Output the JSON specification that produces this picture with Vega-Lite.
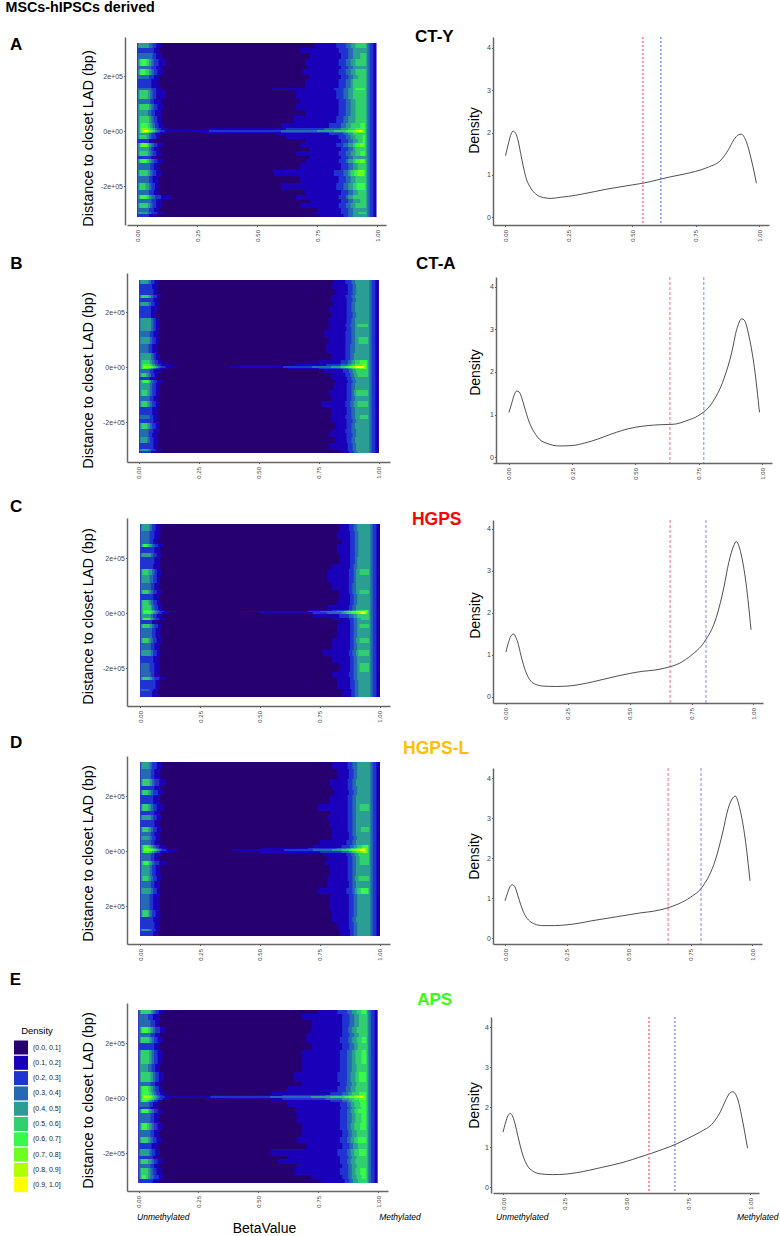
{"$schema":"https://vega.github.io/schema/vega-lite/v6.json","padding":{"left":5,"top":1,"right":0,"bottom":0},"background":"white","bounds":"flush","spacing":366,
"config":{"font":"Liberation Sans","view":{"stroke":null},"axis":{"grid":false,"domainColor":"#666666","domainWidth":1.5,"tickColor":"#555555","tickSize":1.5,"labelColor":"#444444","titleColor":"#000000","titleFontWeight":"normal"},"axisX":{"labelAngle":-90,"labelFontSize":6,"labelPadding":3,"title":null},"axisY":{"labelFontSize":7,"labelPadding":1,"titleFontSize":14.5,"titleBaseline":"middle"}},
"datasets":{
"bands":[{"band":"L1","end":0,"range":"(0.1, 0.2]"},{"band":"L2","end":0,"range":"(0.2, 0.3]"},{"band":"L3","end":0.003,"range":"(0.3, 0.4]"},{"band":"L4","end":0.006,"range":"(0.4, 0.5]"},{"band":"L5","end":0.01,"range":"(0.5, 0.6]"},{"band":"L6","end":0.015,"range":"(0.6, 0.7]"},{"band":"L7","end":0.018,"range":"(0.7, 0.8]"},{"band":"L8","end":0.02,"range":"(0.8, 0.9]"},{"band":"L9","end":0.025,"range":"(0.9, 1.0]"},{"band":"R1","end":0.998,"range":"(0.1, 0.2]"},{"band":"R2","end":0.985,"range":"(0.2, 0.3]"},{"band":"R3","end":0.97,"range":"(0.3, 0.4]"},{"band":"R4","end":0.96,"range":"(0.4, 0.5]"},{"band":"R5","end":0.955,"range":"(0.5, 0.6]"},{"band":"R6","end":0.95,"range":"(0.6, 0.7]"},{"band":"R7","end":0.945,"range":"(0.7, 0.8]"},{"band":"R8","end":0.94,"range":"(0.8, 0.9]"},{"band":"R9","end":0.935,"range":"(0.9, 1.0]"}],
"A":[{"y":320000,"v":302000,"L1":0.1,"L2":0.08,"L3":0.065,"L4":0.05,"R1":0.74,"R2":0.83,"R3":0.87,"R4":0.89,"R5":0.91},
{"y":302000,"v":285000,"L1":0.09,"L2":0.07,"R1":0.68,"R2":0.84,"R3":0.88,"R4":0.9},
{"y":285000,"v":262000,"L1":0.1,"L2":0.08,"L3":0.065,"R1":0.72,"R2":0.85,"R3":0.88,"R4":0.9,"R5":0.93},
{"y":262000,"v":238000,"L1":0.12,"L2":0.09,"L3":0.07,"L4":0.06,"L5":0.05,"L6":0.04,"R1":0.7,"R2":0.84,"R3":0.87,"R4":0.89,"R5":0.91},
{"y":238000,"v":225000,"L1":0.1,"L2":0.08,"L3":0.06,"R1":0.71,"R2":0.85,"R3":0.88,"R4":0.9},
{"y":225000,"v":205000,"L1":0.11,"L2":0.085,"L3":0.07,"L4":0.06,"L5":0.05,"L6":0.035,"R1":0.69,"R2":0.84,"R3":0.87,"R4":0.89,"R5":0.91},
{"y":205000,"v":190000,"L1":0.09,"L2":0.07,"L3":0.05,"R1":0.72,"R2":0.85,"R3":0.88,"R4":0.9,"R5":0.92},
{"y":190000,"v":158000,"L1":0.09,"L2":0.06,"R1":0.7,"R2":0.84,"R3":0.87,"R4":0.89,"R5":0.9},
{"y":158000,"v":150000,"L1":0.1,"L2":0.08,"L3":0.06,"R1":0.56,"R2":0.82,"R3":0.86,"R4":0.88,"R5":0.9,"R6":0.91},
{"y":150000,"v":115000,"L1":0.12,"L2":0.08,"L3":0.065,"L4":0.055,"L5":0.045,"R1":0.66,"R2":0.83,"R3":0.86,"R4":0.88,"R5":0.9},
{"y":115000,"v":98000,"L1":0.1,"L2":0.07,"L3":0.055,"R1":0.68,"R2":0.84,"R3":0.87,"R4":0.89,"R5":0.91},
{"y":98000,"v":78000,"L1":0.11,"L2":0.085,"L3":0.07,"L4":0.06,"L5":0.05,"R1":0.66,"R2":0.84,"R3":0.87,"R4":0.89,"R5":0.91},
{"y":78000,"v":55000,"L1":0.1,"L2":0.075,"L3":0.06,"L4":0.045,"R1":0.7,"R2":0.84,"R3":0.87,"R4":0.89,"R5":0.91},
{"y":55000,"v":30000,"L1":0.1,"L2":0.085,"L3":0.07,"L4":0.06,"L5":0.05,"R1":0.65,"R2":0.83,"R3":0.86,"R4":0.88,"R5":0.91},
{"y":30000,"v":12000,"L1":0.11,"L2":0.09,"L3":0.075,"L4":0.065,"L5":0.055,"L6":0.045,"R1":0.6,"R2":0.8,"R3":0.85,"R4":0.87,"R5":0.89,"R6":0.93},
{"y":12000,"v":5000,"L1":0.13,"L2":0.1,"L3":0.085,"L4":0.075,"L5":0.065,"L6":0.055,"L7":0.045,"R1":0.3,"R2":0.62,"R3":0.78,"R4":0.85,"R5":0.88,"R6":0.91},
{"y":5000,"v":-2000,"L1":0.14,"L2":0.115,"L3":0.095,"L4":0.085,"L5":0.075,"L6":0.065,"L7":0.055,"L8":0.05,"L9":0.045,"R1":0.12,"R2":0.3,"R3":0.6,"R4":0.75,"R5":0.82,"R6":0.87,"R7":0.89,"R8":0.91,"R9":0.925},
{"y":-2000,"v":-8000,"L1":0.125,"L2":0.095,"L3":0.08,"L4":0.07,"L5":0.06,"L6":0.05,"L7":0.04,"R1":0.25,"R2":0.6,"R3":0.8,"R4":0.86,"R5":0.88,"R6":0.9,"R7":0.92},
{"y":-8000,"v":-14000,"L1":0.1,"L2":0.075,"L3":0.06,"L4":0.05,"R1":0.58,"R2":0.8,"R3":0.86,"R4":0.88,"R5":0.9},
{"y":-14000,"v":-30000,"L1":0.095,"L2":0.08,"L3":0.06,"L4":0.05,"L5":0.04,"R1":0.62,"R2":0.84,"R3":0.87,"R4":0.89,"R5":0.91,"R6":0.94},
{"y":-30000,"v":-44000,"L1":0.07,"L2":0.05,"R1":0.7,"R2":0.85,"R3":0.88,"R4":0.9,"R5":0.92,"R6":0.94},
{"y":-44000,"v":-58000,"L1":0.11,"L2":0.085,"L3":0.07,"L4":0.06,"L5":0.05,"L6":0.045,"L7":0.04,"R1":0.68,"R2":0.83,"R3":0.86,"R4":0.88,"R5":0.9,"R6":0.91,"R7":0.93},
{"y":-58000,"v":-72000,"L1":0.09,"L2":0.07,"L3":0.06,"L4":0.05,"R1":0.72,"R2":0.85,"R3":0.88,"R4":0.9,"R5":0.91},
{"y":-72000,"v":-92000,"L1":0.1,"L2":0.08,"L3":0.065,"L4":0.055,"L5":0.045,"R1":0.66,"R2":0.84,"R3":0.87,"R4":0.89,"R5":0.91,"R6":0.93},
{"y":-92000,"v":-100000,"L1":0.08,"L2":0.06,"R1":0.72,"R2":0.85,"R3":0.88,"R4":0.9},
{"y":-100000,"v":-115000,"L1":0.11,"L2":0.085,"L3":0.07,"L4":0.06,"L5":0.05,"L6":0.04,"R1":0.7,"R2":0.84,"R3":0.87,"R4":0.88,"R5":0.9,"R6":0.91,"R7":0.93},
{"y":-115000,"v":-140000,"L1":0.09,"L2":0.07,"L3":0.055,"R1":0.68,"R2":0.85,"R3":0.88,"R4":0.9,"R5":0.92},
{"y":-140000,"v":-165000,"L1":0.1,"L2":0.08,"L3":0.065,"L4":0.055,"L5":0.045,"R1":0.57,"R2":0.82,"R3":0.86,"R4":0.88,"R5":0.89,"R6":0.905,"R7":0.92},
{"y":-165000,"v":-190000,"L1":0.09,"L2":0.065,"L3":0.05,"R1":0.68,"R2":0.84,"R3":0.87,"R4":0.89,"R5":0.91},
{"y":-190000,"v":-215000,"L1":0.09,"L2":0.075,"L3":0.06,"L4":0.05,"L5":0.035,"R1":0.6,"R2":0.83,"R3":0.86,"R4":0.88,"R5":0.9,"R6":0.915},
{"y":-215000,"v":-232000,"L1":0.09,"L2":0.07,"L3":0.05,"R1":0.7,"R2":0.85,"R3":0.88,"R4":0.9,"R5":0.92},
{"y":-232000,"v":-246000,"L1":0.14,"L2":0.1,"L3":0.075,"L4":0.06,"L5":0.05,"L6":0.04,"R1":0.66,"R2":0.84,"R3":0.87,"R4":0.88,"R5":0.9},
{"y":-246000,"v":-262000,"L1":0.1,"L2":0.08,"L3":0.06,"R1":0.72,"R2":0.85,"R3":0.88,"R4":0.9,"R5":0.93},
{"y":-262000,"v":-280000,"L1":0.1,"L2":0.08,"L3":0.065,"L4":0.055,"L5":0.045,"R1":0.68,"R2":0.84,"R3":0.87,"R4":0.89,"R5":0.91},
{"y":-280000,"v":-295000,"L1":0.09,"L2":0.07,"L3":0.05,"R1":0.75,"R2":0.85,"R3":0.88,"R4":0.9},
{"y":-295000,"v":-303000,"L1":0.11,"L2":0.085,"L3":0.06,"L4":0.045,"R1":0.73,"R2":0.85,"R3":0.88,"R4":0.9,"R5":0.92},
{"y":-303000,"v":-311000,"L1":0.08,"L2":0.05,"R1":0.76,"R2":0.86,"R3":0.88,"R4":0.9}],
"B":[{"y":316000,"v":300000,"L1":0.08,"L2":0.065,"L3":0.05,"L4":0.04,"R1":0.81,"R2":0.86,"R3":0.885,"R4":0.9},
{"y":300000,"v":282000,"L1":0.075,"L2":0.055,"R1":0.8,"R2":0.87,"R3":0.89,"R4":0.905},
{"y":282000,"v":262000,"L1":0.08,"L2":0.06,"R1":0.82,"R2":0.87,"R3":0.89,"R4":0.905},
{"y":262000,"v":250000,"L1":0.09,"L2":0.075,"L3":0.06,"L4":0.05,"L5":0.04,"R1":0.8,"R2":0.86,"R3":0.885,"R4":0.9},
{"y":250000,"v":235000,"L1":0.08,"L2":0.06,"R1":0.8,"R2":0.865,"R3":0.89,"R4":0.905},
{"y":235000,"v":222000,"L1":0.085,"L2":0.065,"L3":0.05,"L4":0.04,"R1":0.81,"R2":0.865,"R3":0.885,"R4":0.9},
{"y":222000,"v":200000,"L1":0.075,"L2":0.05,"R1":0.79,"R2":0.865,"R3":0.885,"R4":0.9},
{"y":200000,"v":178000,"L1":0.07,"L2":0.05,"R1":0.8,"R2":0.865,"R3":0.89,"R4":0.905},
{"y":178000,"v":155000,"L1":0.085,"L2":0.07,"L3":0.06,"L4":0.05,"R1":0.79,"R2":0.865,"R3":0.885,"R4":0.9},
{"y":155000,"v":145000,"L1":0.085,"L2":0.07,"L3":0.06,"L4":0.05,"R1":0.79,"R2":0.86,"R3":0.88,"R4":0.9,"R5":0.91},
{"y":145000,"v":130000,"L1":0.085,"L2":0.07,"L3":0.06,"L4":0.05,"R1":0.79,"R2":0.865,"R3":0.885,"R4":0.9},
{"y":130000,"v":110000,"L1":0.08,"L2":0.06,"L3":0.045,"R1":0.77,"R2":0.86,"R3":0.885,"R4":0.9},
{"y":110000,"v":85000,"L1":0.085,"L2":0.07,"L3":0.055,"L4":0.045,"R1":0.79,"R2":0.86,"R3":0.885,"R4":0.9,"R5":0.915},
{"y":85000,"v":50000,"L1":0.075,"L2":0.055,"L3":0.04,"R1":0.78,"R2":0.86,"R3":0.88,"R4":0.9},
{"y":50000,"v":25000,"L1":0.085,"L2":0.07,"L3":0.06,"L4":0.05,"R1":0.8,"R2":0.86,"R3":0.88,"R4":0.895},
{"y":25000,"v":10000,"L1":0.095,"L2":0.08,"L3":0.065,"L4":0.055,"L5":0.045,"R1":0.75,"R2":0.84,"R3":0.87,"R4":0.885,"R5":0.9,"R6":0.92},
{"y":10000,"v":4000,"L1":0.125,"L2":0.09,"L3":0.075,"L4":0.065,"L5":0.055,"L6":0.045,"R1":0.65,"R2":0.78,"R3":0.84,"R4":0.87,"R5":0.885,"R6":0.9,"R7":0.93},
{"y":4000,"v":-3000,"L1":0.155,"L2":0.11,"L3":0.09,"L4":0.08,"L5":0.07,"L6":0.06,"L7":0.05,"R1":0.38,"R2":0.6,"R3":0.72,"R4":0.8,"R5":0.84,"R6":0.86,"R7":0.875,"R8":0.89,"R9":0.905},
{"y":-3000,"v":-9000,"L1":0.12,"L2":0.085,"L3":0.07,"L4":0.06,"L5":0.05,"L6":0.04,"R1":0.62,"R2":0.75,"R3":0.84,"R4":0.87,"R5":0.885,"R6":0.9,"R7":0.92},
{"y":-9000,"v":-22000,"L1":0.09,"L2":0.06,"L3":0.045,"R1":0.77,"R2":0.85,"R3":0.875,"R4":0.89,"R5":0.905},
{"y":-22000,"v":-36000,"L1":0.08,"L2":0.065,"L3":0.05,"L4":0.04,"L5":0.03,"R1":0.8,"R2":0.86,"R3":0.88,"R4":0.895,"R5":0.91},
{"y":-36000,"v":-48000,"L1":0.07,"L2":0.045,"R1":0.8,"R2":0.865,"R3":0.885,"R4":0.9},
{"y":-48000,"v":-58000,"L1":0.1,"L2":0.075,"L3":0.06,"L4":0.05,"L5":0.045,"L6":0.04,"R1":0.82,"R2":0.87,"R3":0.89,"R4":0.905},
{"y":-58000,"v":-85000,"L1":0.085,"L2":0.07,"L3":0.055,"L4":0.045,"R1":0.81,"R2":0.865,"R3":0.885,"R4":0.9},
{"y":-85000,"v":-105000,"L1":0.085,"L2":0.07,"L3":0.055,"L4":0.045,"L5":0.035,"R1":0.79,"R2":0.865,"R3":0.885,"R4":0.895,"R5":0.905},
{"y":-105000,"v":-125000,"L1":0.08,"L2":0.06,"L3":0.045,"R1":0.8,"R2":0.865,"R3":0.885,"R4":0.9},
{"y":-125000,"v":-145000,"L1":0.085,"L2":0.07,"L3":0.055,"L4":0.045,"L5":0.035,"R1":0.76,"R2":0.86,"R3":0.88,"R4":0.895,"R5":0.91},
{"y":-145000,"v":-175000,"L1":0.08,"L2":0.055,"R1":0.8,"R2":0.865,"R3":0.885,"R4":0.9},
{"y":-175000,"v":-190000,"L1":0.08,"L2":0.06,"L3":0.045,"R1":0.8,"R2":0.86,"R3":0.885,"R4":0.9,"R5":0.92},
{"y":-190000,"v":-205000,"L1":0.08,"L2":0.06,"R1":0.8,"R2":0.865,"R3":0.89,"R4":0.905},
{"y":-205000,"v":-225000,"L1":0.085,"L2":0.07,"L3":0.055,"L4":0.045,"L5":0.035,"R1":0.82,"R2":0.865,"R3":0.885,"R4":0.9},
{"y":-225000,"v":-240000,"L1":0.085,"L2":0.06,"L3":0.04,"R1":0.8,"R2":0.86,"R3":0.885,"R4":0.905},
{"y":-240000,"v":-255000,"L1":0.075,"L2":0.055,"L3":0.04,"R1":0.79,"R2":0.865,"R3":0.89,"R4":0.905},
{"y":-255000,"v":-278000,"L1":0.08,"L2":0.06,"L3":0.045,"L4":0.035,"R1":0.82,"R2":0.865,"R3":0.885,"R4":0.9},
{"y":-278000,"v":-298000,"L1":0.08,"L2":0.06,"R1":0.79,"R2":0.87,"R3":0.89,"R4":0.905},
{"y":-298000,"v":-304000,"L1":0.095,"L2":0.07,"L3":0.05,"L4":0.04,"R1":0.83,"R2":0.87,"R3":0.89,"R4":0.905},
{"y":-304000,"v":-313000,"L1":0.07,"L2":0.05,"R1":0.85,"R2":0.875,"R3":0.895,"R4":0.91}],
"C":[{"y":324000,"v":300000,"L1":0.085,"L2":0.065,"L3":0.05,"L4":0.04,"R1":0.83,"R2":0.87,"R3":0.89,"R4":0.905},
{"y":300000,"v":270000,"L1":0.085,"L2":0.06,"L3":0.04,"R1":0.82,"R2":0.875,"R3":0.895,"R4":0.91},
{"y":270000,"v":252000,"L1":0.075,"L2":0.055,"L3":0.04,"R1":0.84,"R2":0.875,"R3":0.895,"R4":0.91},
{"y":252000,"v":240000,"L1":0.1,"L2":0.075,"L3":0.06,"L4":0.05,"L5":0.04,"L6":0.03,"R1":0.82,"R2":0.875,"R3":0.895,"R4":0.91},
{"y":240000,"v":218000,"L1":0.085,"L2":0.06,"R1":0.82,"R2":0.875,"R3":0.895,"R4":0.91},
{"y":218000,"v":205000,"L1":0.09,"L2":0.07,"L3":0.055,"L4":0.045,"R1":0.83,"R2":0.875,"R3":0.895,"R4":0.91},
{"y":205000,"v":180000,"L1":0.085,"L2":0.06,"R1":0.83,"R2":0.875,"R3":0.895,"R4":0.905},
{"y":180000,"v":160000,"L1":0.08,"L2":0.055,"R1":0.8,"R2":0.875,"R3":0.89,"R4":0.905},
{"y":160000,"v":140000,"L1":0.09,"L2":0.07,"L3":0.06,"L4":0.05,"L5":0.035,"R1":0.78,"R2":0.87,"R3":0.89,"R4":0.9,"R5":0.915},
{"y":140000,"v":110000,"L1":0.085,"L2":0.07,"L3":0.055,"L4":0.04,"R1":0.78,"R2":0.87,"R3":0.89,"R4":0.9},
{"y":110000,"v":85000,"L1":0.08,"L2":0.06,"L3":0.045,"R1":0.8,"R2":0.87,"R3":0.885,"R4":0.9},
{"y":85000,"v":68000,"L1":0.09,"L2":0.07,"L3":0.055,"L4":0.045,"L5":0.035,"R1":0.83,"R2":0.87,"R3":0.885,"R4":0.9,"R5":0.915},
{"y":68000,"v":48000,"L1":0.08,"L2":0.055,"R1":0.83,"R2":0.875,"R3":0.89,"R4":0.905},
{"y":48000,"v":30000,"L1":0.085,"L2":0.07,"L3":0.055,"L4":0.045,"L5":0.035,"R1":0.82,"R2":0.875,"R3":0.89,"R4":0.905},
{"y":30000,"v":12000,"L1":0.09,"L2":0.075,"L3":0.06,"L4":0.05,"L5":0.045,"R1":0.78,"R2":0.87,"R3":0.885,"R4":0.9},
{"y":12000,"v":8000,"L1":0.11,"L2":0.085,"L3":0.07,"L4":0.06,"L5":0.05,"L6":0.04,"R1":0.7,"R2":0.8,"R3":0.86,"R4":0.885,"R5":0.9,"R6":0.92,"R7":0.94},
{"y":8000,"v":2000,"L1":0.15,"L2":0.1,"L3":0.08,"L4":0.07,"L5":0.06,"L6":0.05,"L7":0.04,"R1":0.42,"R2":0.7,"R3":0.75,"R4":0.82,"R5":0.85,"R6":0.87,"R7":0.885,"R8":0.9,"R9":0.915},
{"y":2000,"v":-4000,"L1":0.12,"L2":0.09,"L3":0.075,"L4":0.065,"L5":0.055,"L6":0.045,"R1":0.5,"R2":0.72,"R3":0.78,"R4":0.84,"R5":0.86,"R6":0.88,"R7":0.9,"R8":0.91,"R9":0.92},
{"y":-4000,"v":-18000,"L1":0.09,"L2":0.07,"L3":0.055,"L4":0.045,"R1":0.72,"R2":0.83,"R3":0.87,"R4":0.89,"R5":0.905},
{"y":-18000,"v":-26000,"L1":0.105,"L2":0.08,"L3":0.065,"L4":0.055,"L5":0.045,"L6":0.04,"R1":0.8,"R2":0.87,"R3":0.89,"R4":0.905,"R5":0.92},
{"y":-26000,"v":-40000,"L1":0.07,"L2":0.05,"R1":0.83,"R2":0.875,"R3":0.89,"R4":0.905},
{"y":-40000,"v":-56000,"L1":0.09,"L2":0.075,"L3":0.06,"L4":0.05,"L5":0.04,"R1":0.82,"R2":0.875,"R3":0.89,"R4":0.905,"R5":0.915},
{"y":-56000,"v":-92000,"L1":0.085,"L2":0.065,"L3":0.05,"R1":0.82,"R2":0.875,"R3":0.89,"R4":0.905},
{"y":-92000,"v":-110000,"L1":0.09,"L2":0.07,"L3":0.055,"L4":0.045,"L5":0.035,"R1":0.8,"R2":0.875,"R3":0.89,"R4":0.9,"R5":0.915},
{"y":-110000,"v":-135000,"L1":0.08,"L2":0.06,"L3":0.045,"R1":0.8,"R2":0.875,"R3":0.89,"R4":0.905},
{"y":-135000,"v":-155000,"L1":0.085,"L2":0.07,"L3":0.055,"L4":0.045,"R1":0.76,"R2":0.87,"R3":0.885,"R4":0.9,"R5":0.91},
{"y":-155000,"v":-180000,"L1":0.08,"L2":0.055,"R1":0.8,"R2":0.875,"R3":0.89,"R4":0.905},
{"y":-180000,"v":-215000,"L1":0.08,"L2":0.06,"L3":0.04,"R1":0.83,"R2":0.875,"R3":0.89,"R4":0.905,"R5":0.915},
{"y":-215000,"v":-232000,"L1":0.08,"L2":0.06,"L3":0.045,"R1":0.8,"R2":0.87,"R3":0.89,"R4":0.905},
{"y":-232000,"v":-242000,"L1":0.105,"L2":0.08,"L3":0.06,"L4":0.05,"L5":0.04,"R1":0.82,"R2":0.875,"R3":0.89,"R4":0.905},
{"y":-242000,"v":-275000,"L1":0.08,"L2":0.065,"R1":0.82,"R2":0.875,"R3":0.895,"R4":0.91},
{"y":-275000,"v":-285000,"L1":0.075,"L2":0.055,"L3":0.04,"R1":0.85,"R2":0.88,"R3":0.895,"R4":0.91},
{"y":-285000,"v":-305000,"L1":0.07,"L2":0.05,"R1":0.84,"R2":0.88,"R3":0.895,"R4":0.91}],
"D":[{"y":324000,"v":300000,"L1":0.09,"L2":0.07,"L3":0.05,"L4":0.04,"R1":0.8,"R2":0.865,"R3":0.885,"R4":0.905},
{"y":300000,"v":262000,"L1":0.085,"L2":0.06,"L3":0.045,"R1":0.82,"R2":0.87,"R3":0.89,"R4":0.905},
{"y":262000,"v":236000,"L1":0.105,"L2":0.08,"L3":0.06,"L4":0.05,"L5":0.04,"R1":0.79,"R2":0.865,"R3":0.885,"R4":0.9},
{"y":236000,"v":222000,"L1":0.085,"L2":0.06,"R1":0.8,"R2":0.865,"R3":0.885,"R4":0.905},
{"y":222000,"v":205000,"L1":0.095,"L2":0.075,"L3":0.055,"L4":0.045,"L5":0.035,"R1":0.81,"R2":0.87,"R3":0.89,"R4":0.905},
{"y":205000,"v":170000,"L1":0.08,"L2":0.055,"R1":0.79,"R2":0.865,"R3":0.885,"R4":0.9},
{"y":170000,"v":145000,"L1":0.1,"L2":0.07,"L3":0.055,"L4":0.045,"L5":0.035,"R1":0.74,"R2":0.865,"R3":0.885,"R4":0.9,"R5":0.915},
{"y":145000,"v":130000,"L1":0.08,"L2":0.06,"R1":0.79,"R2":0.865,"R3":0.885,"R4":0.9},
{"y":130000,"v":112000,"L1":0.09,"L2":0.07,"L3":0.055,"L4":0.045,"R1":0.78,"R2":0.865,"R3":0.885,"R4":0.9},
{"y":112000,"v":88000,"L1":0.08,"L2":0.06,"R1":0.79,"R2":0.865,"R3":0.885,"R4":0.9},
{"y":88000,"v":68000,"L1":0.09,"L2":0.07,"L3":0.055,"L4":0.045,"L5":0.035,"R1":0.8,"R2":0.865,"R3":0.885,"R4":0.9,"R5":0.92},
{"y":68000,"v":55000,"L1":0.08,"L2":0.06,"L3":0.045,"R1":0.8,"R2":0.87,"R3":0.885,"R4":0.9},
{"y":55000,"v":40000,"L1":0.085,"L2":0.065,"L3":0.05,"L4":0.04,"R1":0.8,"R2":0.87,"R3":0.89,"R4":0.905},
{"y":40000,"v":22000,"L1":0.08,"L2":0.06,"L3":0.045,"R1":0.75,"R2":0.86,"R3":0.885,"R4":0.9},
{"y":22000,"v":12000,"L1":0.105,"L2":0.08,"L3":0.065,"L4":0.055,"L5":0.045,"L6":0.035,"R1":0.72,"R2":0.84,"R3":0.875,"R4":0.89,"R5":0.905,"R6":0.925},
{"y":12000,"v":6000,"L1":0.12,"L2":0.09,"L3":0.075,"L4":0.065,"L5":0.055,"L6":0.045,"L7":0.035,"R1":0.5,"R2":0.7,"R3":0.82,"R4":0.86,"R5":0.88,"R6":0.9,"R7":0.91,"R8":0.925},
{"y":6000,"v":0,"L1":0.155,"L2":0.11,"L3":0.09,"L4":0.08,"L5":0.07,"L6":0.06,"L7":0.05,"R1":0.38,"R2":0.6,"R3":0.72,"R4":0.8,"R5":0.84,"R6":0.87,"R7":0.88,"R8":0.895,"R9":0.915},
{"y":0,"v":-6000,"L1":0.12,"L2":0.085,"L3":0.07,"L4":0.06,"L5":0.05,"L6":0.04,"R1":0.5,"R2":0.75,"R3":0.84,"R4":0.87,"R5":0.885,"R6":0.9,"R7":0.92,"R8":0.93},
{"y":-6000,"v":-18000,"L1":0.09,"L2":0.06,"L3":0.045,"R1":0.76,"R2":0.86,"R3":0.88,"R4":0.895,"R5":0.91},
{"y":-18000,"v":-36000,"L1":0.08,"L2":0.06,"L3":0.045,"R1":0.78,"R2":0.865,"R3":0.885,"R4":0.9,"R5":0.915},
{"y":-36000,"v":-50000,"L1":0.11,"L2":0.08,"L3":0.06,"L4":0.05,"L5":0.04,"L6":0.035,"R1":0.77,"R2":0.865,"R3":0.885,"R4":0.9,"R5":0.915},
{"y":-50000,"v":-90000,"L1":0.085,"L2":0.065,"L3":0.05,"L4":0.04,"R1":0.79,"R2":0.865,"R3":0.885,"R4":0.9},
{"y":-90000,"v":-108000,"L1":0.09,"L2":0.07,"L3":0.055,"L4":0.045,"L5":0.035,"R1":0.78,"R2":0.865,"R3":0.885,"R4":0.895,"R5":0.91},
{"y":-108000,"v":-135000,"L1":0.08,"L2":0.06,"L3":0.045,"R1":0.78,"R2":0.87,"R3":0.885,"R4":0.9},
{"y":-135000,"v":-155000,"L1":0.085,"L2":0.07,"L3":0.055,"L4":0.045,"R1":0.74,"R2":0.86,"R3":0.885,"R4":0.895,"R5":0.905,"R6":0.92},
{"y":-155000,"v":-215000,"L1":0.08,"L2":0.055,"L3":0.04,"R1":0.79,"R2":0.87,"R3":0.89,"R4":0.905},
{"y":-215000,"v":-240000,"L1":0.085,"L2":0.065,"L3":0.05,"L4":0.04,"L5":0.035,"R1":0.8,"R2":0.87,"R3":0.89,"R4":0.905},
{"y":-240000,"v":-258000,"L1":0.08,"L2":0.055,"R1":0.8,"R2":0.87,"R3":0.885,"R4":0.9},
{"y":-258000,"v":-282000,"L1":0.08,"L2":0.06,"R1":0.82,"R2":0.87,"R3":0.89,"R4":0.905},
{"y":-282000,"v":-292000,"L1":0.085,"L2":0.065,"L3":0.05,"L4":0.04,"R1":0.83,"R2":0.875,"R3":0.89,"R4":0.905},
{"y":-292000,"v":-309000,"L1":0.075,"L2":0.055,"R1":0.83,"R2":0.875,"R3":0.89,"R4":0.905}],
"E":[{"y":320000,"v":305000,"L1":0.105,"L2":0.085,"L3":0.07,"L4":0.06,"L5":0.05,"R1":0.75,"R2":0.83,"R3":0.87,"R4":0.89,"R5":0.91,"R6":0.93},
{"y":305000,"v":285000,"L1":0.09,"L2":0.06,"L3":0.04,"R1":0.68,"R2":0.85,"R3":0.88,"R4":0.9,"R5":0.92},
{"y":285000,"v":258000,"L1":0.085,"L2":0.07,"L3":0.05,"R1":0.72,"R2":0.85,"R3":0.88,"R4":0.9,"R5":0.92},
{"y":258000,"v":238000,"L1":0.11,"L2":0.09,"L3":0.07,"L4":0.06,"L5":0.05,"L6":0.04,"R1":0.72,"R2":0.85,"R3":0.875,"R4":0.89,"R5":0.91},
{"y":238000,"v":222000,"L1":0.09,"L2":0.07,"L3":0.05,"R1":0.7,"R2":0.85,"R3":0.88,"R4":0.9,"R5":0.92},
{"y":222000,"v":200000,"L1":0.1,"L2":0.08,"L3":0.065,"L4":0.055,"L5":0.045,"R1":0.7,"R2":0.84,"R3":0.875,"R4":0.89,"R5":0.91,"R6":0.93},
{"y":200000,"v":175000,"L1":0.085,"L2":0.065,"R1":0.72,"R2":0.85,"R3":0.88,"R4":0.9,"R5":0.915},
{"y":175000,"v":125000,"L1":0.1,"L2":0.08,"L3":0.065,"L4":0.055,"L5":0.045,"R1":0.68,"R2":0.84,"R3":0.87,"R4":0.89,"R5":0.905,"R6":0.93},
{"y":125000,"v":95000,"L1":0.09,"L2":0.07,"L3":0.055,"L4":0.04,"R1":0.68,"R2":0.84,"R3":0.87,"R4":0.89,"R5":0.91},
{"y":95000,"v":60000,"L1":0.105,"L2":0.085,"L3":0.07,"L4":0.06,"L5":0.05,"R1":0.65,"R2":0.83,"R3":0.87,"R4":0.885,"R5":0.905,"R6":0.92},
{"y":60000,"v":42000,"L1":0.09,"L2":0.07,"L3":0.05,"R1":0.68,"R2":0.84,"R3":0.87,"R4":0.89,"R5":0.91},
{"y":42000,"v":22000,"L1":0.1,"L2":0.085,"L3":0.07,"L4":0.06,"L5":0.05,"L6":0.04,"R1":0.62,"R2":0.83,"R3":0.865,"R4":0.885,"R5":0.905},
{"y":22000,"v":11000,"L1":0.11,"L2":0.09,"L3":0.075,"L4":0.065,"L5":0.055,"L6":0.045,"R1":0.55,"R2":0.8,"R3":0.85,"R4":0.875,"R5":0.89,"R6":0.92},
{"y":11000,"v":6000,"L1":0.13,"L2":0.1,"L3":0.085,"L4":0.075,"L5":0.065,"L6":0.055,"L7":0.045,"R1":0.3,"R2":0.6,"R3":0.78,"R4":0.85,"R5":0.88,"R6":0.9,"R7":0.92},
{"y":6000,"v":0,"L1":0.15,"L2":0.11,"L3":0.09,"L4":0.08,"L5":0.07,"L6":0.06,"L7":0.055,"L8":0.05,"R1":0.13,"R2":0.3,"R3":0.55,"R4":0.72,"R5":0.8,"R6":0.86,"R7":0.88,"R8":0.9,"R9":0.925},
{"y":0,"v":-6000,"L1":0.13,"L2":0.1,"L3":0.085,"L4":0.075,"L5":0.065,"L6":0.055,"L7":0.045,"R1":0.28,"R2":0.6,"R3":0.78,"R4":0.85,"R5":0.88,"R6":0.9,"R7":0.92},
{"y":-6000,"v":-14000,"L1":0.1,"L2":0.08,"L3":0.065,"L4":0.055,"L5":0.045,"L6":0.035,"R1":0.55,"R2":0.8,"R3":0.85,"R4":0.875,"R5":0.89,"R6":0.92},
{"y":-14000,"v":-32000,"L1":0.085,"L2":0.06,"L3":0.045,"R1":0.62,"R2":0.84,"R3":0.87,"R4":0.885,"R5":0.9,"R6":0.925},
{"y":-32000,"v":-40000,"L1":0.07,"L2":0.05,"R1":0.66,"R2":0.845,"R3":0.875,"R4":0.89,"R5":0.905,"R6":0.93},
{"y":-40000,"v":-54000,"L1":0.1,"L2":0.08,"L3":0.065,"L4":0.055,"L5":0.045,"L6":0.04,"R1":0.65,"R2":0.84,"R3":0.87,"R4":0.885,"R5":0.9,"R6":0.915},
{"y":-54000,"v":-90000,"L1":0.085,"L2":0.065,"L3":0.05,"R1":0.66,"R2":0.84,"R3":0.87,"R4":0.89,"R5":0.905,"R6":0.93},
{"y":-90000,"v":-115000,"L1":0.1,"L2":0.08,"L3":0.065,"L4":0.055,"L5":0.045,"L6":0.035,"R1":0.68,"R2":0.84,"R3":0.87,"R4":0.885,"R5":0.9,"R6":0.925},
{"y":-115000,"v":-140000,"L1":0.085,"L2":0.065,"L3":0.05,"R1":0.68,"R2":0.85,"R3":0.875,"R4":0.89,"R5":0.91},
{"y":-140000,"v":-165000,"L1":0.095,"L2":0.075,"L3":0.06,"L4":0.05,"L5":0.04,"R1":0.66,"R2":0.84,"R3":0.87,"R4":0.885,"R5":0.9,"R6":0.915},
{"y":-165000,"v":-185000,"L1":0.08,"L2":0.055,"R1":0.7,"R2":0.85,"R3":0.88,"R4":0.895,"R5":0.915},
{"y":-185000,"v":-210000,"L1":0.09,"L2":0.07,"L3":0.055,"L4":0.045,"R1":0.55,"R2":0.83,"R3":0.87,"R4":0.885,"R5":0.9,"R6":0.92},
{"y":-210000,"v":-222000,"L1":0.08,"L2":0.06,"R1":0.62,"R2":0.84,"R3":0.875,"R4":0.89,"R5":0.91},
{"y":-222000,"v":-240000,"L1":0.1,"L2":0.08,"L3":0.065,"L4":0.055,"L5":0.04,"R1":0.58,"R2":0.84,"R3":0.87,"R4":0.885,"R5":0.905},
{"y":-240000,"v":-256000,"L1":0.085,"L2":0.065,"L3":0.05,"R1":0.66,"R2":0.85,"R3":0.875,"R4":0.89,"R5":0.91},
{"y":-256000,"v":-280000,"L1":0.095,"L2":0.075,"L3":0.06,"L4":0.05,"L5":0.04,"R1":0.65,"R2":0.84,"R3":0.875,"R4":0.89,"R5":0.905,"R6":0.925},
{"y":-280000,"v":-295000,"L1":0.105,"L2":0.085,"L3":0.065,"L4":0.05,"L5":0.04,"L6":0.03,"R1":0.72,"R2":0.85,"R3":0.875,"R4":0.89,"R5":0.91,"R6":0.93},
{"y":-295000,"v":-309000,"L1":0.085,"L2":0.06,"R1":0.76,"R2":0.86,"R3":0.88,"R4":0.895,"R5":0.915}],
"dA":[{"x":0,"d":1.45},{"x":0.01,"d":1.7},{"x":0.02,"d":1.93},{"x":0.03,"d":2.03},{"x":0.04,"d":1.98},{"x":0.05,"d":1.8},{"x":0.06,"d":1.5},{"x":0.07,"d":1.2},{"x":0.08,"d":0.95},{"x":0.1,"d":0.68},{"x":0.12,"d":0.54},{"x":0.15,"d":0.46},{"x":0.18,"d":0.44},{"x":0.22,"d":0.47},{"x":0.25,"d":0.49},{"x":0.3,"d":0.54},{"x":0.35,"d":0.6},{"x":0.4,"d":0.66},{"x":0.45,"d":0.71},{"x":0.5,"d":0.76},{"x":0.55,"d":0.81},{"x":0.6,"d":0.88},{"x":0.65,"d":0.95},{"x":0.7,"d":1.01},{"x":0.75,"d":1.08},{"x":0.8,"d":1.18},{"x":0.85,"d":1.35},{"x":0.88,"d":1.6},{"x":0.9,"d":1.82},{"x":0.92,"d":1.95},{"x":0.93,"d":1.96},{"x":0.95,"d":1.78},{"x":0.97,"d":1.35},{"x":0.99,"d":0.8}],
"dB":[{"x":0,"d":1.05},{"x":0.01,"d":1.25},{"x":0.02,"d":1.45},{"x":0.03,"d":1.55},{"x":0.04,"d":1.53},{"x":0.05,"d":1.4},{"x":0.06,"d":1.2},{"x":0.08,"d":0.82},{"x":0.1,"d":0.58},{"x":0.12,"d":0.42},{"x":0.15,"d":0.32},{"x":0.2,"d":0.26},{"x":0.25,"d":0.27},{"x":0.3,"d":0.33},{"x":0.35,"d":0.42},{"x":0.4,"d":0.53},{"x":0.45,"d":0.63},{"x":0.5,"d":0.7},{"x":0.55,"d":0.74},{"x":0.6,"d":0.76},{"x":0.65,"d":0.77},{"x":0.7,"d":0.85},{"x":0.75,"d":0.98},{"x":0.8,"d":1.25},{"x":0.85,"d":1.85},{"x":0.88,"d":2.45},{"x":0.9,"d":3.0},{"x":0.92,"d":3.25},{"x":0.93,"d":3.22},{"x":0.95,"d":2.8},{"x":0.97,"d":2.1},{"x":0.99,"d":1.05}],
"dC":[{"x":0,"d":1.07},{"x":0.01,"d":1.3},{"x":0.02,"d":1.45},{"x":0.03,"d":1.5},{"x":0.04,"d":1.42},{"x":0.05,"d":1.25},{"x":0.06,"d":1.0},{"x":0.08,"d":0.6},{"x":0.1,"d":0.38},{"x":0.12,"d":0.3},{"x":0.15,"d":0.26},{"x":0.2,"d":0.25},{"x":0.25,"d":0.26},{"x":0.3,"d":0.3},{"x":0.35,"d":0.36},{"x":0.4,"d":0.43},{"x":0.45,"d":0.5},{"x":0.5,"d":0.56},{"x":0.55,"d":0.61},{"x":0.6,"d":0.64},{"x":0.65,"d":0.7},{"x":0.7,"d":0.8},{"x":0.75,"d":1.0},{"x":0.8,"d":1.3},{"x":0.85,"d":1.9},{"x":0.88,"d":2.6},{"x":0.9,"d":3.2},{"x":0.92,"d":3.6},{"x":0.93,"d":3.7},{"x":0.95,"d":3.4},{"x":0.97,"d":2.7},{"x":0.99,"d":1.6}],
"dD":[{"x":0,"d":0.93},{"x":0.01,"d":1.12},{"x":0.02,"d":1.28},{"x":0.03,"d":1.33},{"x":0.04,"d":1.28},{"x":0.05,"d":1.1},{"x":0.06,"d":0.9},{"x":0.08,"d":0.58},{"x":0.1,"d":0.42},{"x":0.12,"d":0.35},{"x":0.15,"d":0.31},{"x":0.2,"d":0.31},{"x":0.25,"d":0.33},{"x":0.3,"d":0.37},{"x":0.35,"d":0.43},{"x":0.4,"d":0.48},{"x":0.45,"d":0.53},{"x":0.5,"d":0.58},{"x":0.55,"d":0.63},{"x":0.6,"d":0.67},{"x":0.65,"d":0.74},{"x":0.7,"d":0.85},{"x":0.75,"d":1.02},{"x":0.8,"d":1.3},{"x":0.85,"d":1.95},{"x":0.88,"d":2.65},{"x":0.9,"d":3.2},{"x":0.92,"d":3.5},{"x":0.93,"d":3.55},{"x":0.95,"d":3.2},{"x":0.97,"d":2.5},{"x":0.99,"d":1.43}],
"dE":[{"x":0,"d":1.37},{"x":0.01,"d":1.6},{"x":0.02,"d":1.78},{"x":0.03,"d":1.84},{"x":0.04,"d":1.75},{"x":0.05,"d":1.55},{"x":0.06,"d":1.28},{"x":0.08,"d":0.8},{"x":0.1,"d":0.52},{"x":0.12,"d":0.4},{"x":0.15,"d":0.33},{"x":0.2,"d":0.31},{"x":0.25,"d":0.32},{"x":0.3,"d":0.36},{"x":0.35,"d":0.42},{"x":0.4,"d":0.49},{"x":0.45,"d":0.56},{"x":0.5,"d":0.64},{"x":0.55,"d":0.74},{"x":0.6,"d":0.84},{"x":0.65,"d":0.95},{"x":0.7,"d":1.07},{"x":0.75,"d":1.22},{"x":0.8,"d":1.38},{"x":0.85,"d":1.6},{"x":0.88,"d":1.88},{"x":0.9,"d":2.15},{"x":0.92,"d":2.36},{"x":0.93,"d":2.38},{"x":0.95,"d":2.2},{"x":0.97,"d":1.65},{"x":0.99,"d":0.97}]},
"hconcat":[
{"bounds":"flush","spacing":48,"vconcat":[
{"width":259,"height":188,"layer":[
{"data":{"values":[{}]},"mark":{"type":"rect","fill":"#26006E"},"encoding":{"x":{"datum":0,"type":"quantitative","scale":{"domain":[-0.0417,1.0375],"nice":false,"zero":false},"axis":{"values":[0,0.25,0.5,0.75,1],"format":".2f","title":null}},"x2":{"datum":0.995},"y":{"datum":320000,"type":"quantitative","scale":{"domain":[-341800,341800],"nice":false,"zero":false,"round":true},"axis":{"values":[-200000,0,200000],"labelExpr":"datum.value>0?'2e+05':datum.value<0?'-2e+05':'0e+00'","title":"Distance to closet LAD (bp)","titleX":-37,"titleY":101,"offset":2}},"y2":{"datum":-311000}}},
{"data":{"name":"A"},"transform":[{"fold":["L1","L2","L3","L4","L5","L6","L7","L8","L9","R1","R2","R3","R4","R5","R6","R7","R8","R9"],"as":["band","edge"]},{"filter":"isValid(datum.edge)"},{"lookup":"band","from":{"data":{"name":"bands"},"key":"band","fields":["end","range"]}}],"mark":"rect","encoding":{"x":{"field":"edge","type":"quantitative"},"x2":{"field":"end"},"y":{"field":"y","type":"quantitative"},"y2":{"field":"v"},"color":{"field":"range","type":"nominal","scale":{"domain":["(0.0, 0.1]","(0.1, 0.2]","(0.2, 0.3]","(0.3, 0.4]","(0.4, 0.5]","(0.5, 0.6]","(0.6, 0.7]","(0.7, 0.8]","(0.8, 0.9]","(0.9, 1.0]"],"range":["#26006E","#1A00B8","#1F33D0","#2469B2","#2B9E94","#30D06E","#38F94A","#6CFF20","#B2FF00","#FFFF00"]},"legend":{"orient":"none","legendX":-113,"legendY":989,"title":"Density","titleFontSize":9.5,"titleFontWeight":"normal","titleColor":"#000000","titleAnchor":"middle","titlePadding":5,"labelFontSize":7,"labelColor":"#222222","labelOffset":5,"symbolType":"square","symbolSize":196,"symbolStrokeWidth":0,"rowPadding":1.3}}}},
{"data":{"values":[{"t":"A"}]},"mark":{"type":"text","fontSize":17,"fontWeight":"bold","align":"left","baseline":"middle"},"encoding":{"x":{"datum":-0.529},"y":{"datum":312700},"text":{"field":"t"}}},
{"data":{"values":[{"t":"CT-Y"}]},"mark":{"type":"text","fontSize":17,"fontWeight":"bold","align":"left","baseline":"middle"},"encoding":{"x":{"datum":1.158},"y":{"datum":341800},"text":{"field":"t"}}},
{"data":{"values":[{"t":"MSCs-hIPSCs derived"}]},"mark":{"type":"text","fontSize":14.3,"fontWeight":"bold","align":"left","baseline":"middle"},"encoding":{"x":{"datum":-0.548},"y":{"datum":449000},"text":{"field":"t"}}}
]},
{"bounds":"flush","spacing":56,"vconcat":[
{"width":263,"height":189,"layer":[
{"data":{"values":[{}]},"mark":{"type":"rect","fill":"#26006E"},"encoding":{"x":{"datum":0,"type":"quantitative","scale":{"domain":[-0.05,1.046],"nice":false,"zero":false},"axis":{"values":[0,0.25,0.5,0.75,1],"format":".2f","title":null}},"x2":{"datum":1},"y":{"datum":316000,"type":"quantitative","scale":{"domain":[-345450,341800],"nice":false,"zero":false,"round":true},"axis":{"values":[-200000,0,200000],"labelExpr":"datum.value>0?'2e+05':datum.value<0?'-2e+05':'0e+00'","title":"Distance to closet LAD (bp)","titleX":-39,"titleY":107}},"y2":{"datum":-313000}}},
{"data":{"name":"B"},"transform":[{"fold":["L1","L2","L3","L4","L5","L6","L7","L8","L9","R1","R2","R3","R4","R5","R6","R7","R8","R9"],"as":["band","edge"]},{"filter":"isValid(datum.edge)"},{"lookup":"band","from":{"data":{"name":"bands"},"key":"band","fields":["end","range"]}}],"mark":"rect","encoding":{"x":{"field":"edge","type":"quantitative"},"x2":{"field":"end"},"y":{"field":"y","type":"quantitative"},"y2":{"field":"v"},"color":{"field":"range","type":"nominal","scale":{"domain":["(0.0, 0.1]","(0.1, 0.2]","(0.2, 0.3]","(0.3, 0.4]","(0.4, 0.5]","(0.5, 0.6]","(0.6, 0.7]","(0.7, 0.8]","(0.8, 0.9]","(0.9, 1.0]"],"range":["#26006E","#1A00B8","#1F33D0","#2469B2","#2B9E94","#30D06E","#38F94A","#6CFF20","#B2FF00","#FFFF00"]}}}},
{"data":{"values":[{"t":"B"}]},"mark":{"type":"text","fontSize":17,"fontWeight":"bold","align":"left","baseline":"middle"},"encoding":{"x":{"datum":-0.537},"y":{"datum":374500},"text":{"field":"t"}}},
{"data":{"values":[{"t":"CT-A"}]},"mark":{"type":"text","fontSize":17,"fontWeight":"bold","align":"left","baseline":"middle"},"encoding":{"x":{"datum":1.154},"y":{"datum":374500},"text":{"field":"t"}}}
]},
{"bounds":"flush","spacing":50,"vconcat":[
{"width":263,"height":188,"layer":[
{"data":{"values":[{}]},"mark":{"type":"rect","fill":"#26006E"},"encoding":{"x":{"datum":0,"type":"quantitative","scale":{"domain":[-0.0542,1.0417],"nice":false,"zero":false},"axis":{"values":[0,0.25,0.5,0.75,1],"format":".2f","title":null}},"x2":{"datum":1},"y":{"datum":324000,"type":"quantitative","scale":{"domain":[-338000,345450],"nice":false,"zero":false,"round":true},"axis":{"values":[-200000,0,200000],"labelExpr":"datum.value>0?'2e+05':datum.value<0?'-2e+05':'0e+00'","title":"Distance to closet LAD (bp)","titleX":-39,"titleY":98}},"y2":{"datum":-305000}}},
{"data":{"name":"C"},"transform":[{"fold":["L1","L2","L3","L4","L5","L6","L7","L8","L9","R1","R2","R3","R4","R5","R6","R7","R8","R9"],"as":["band","edge"]},{"filter":"isValid(datum.edge)"},{"lookup":"band","from":{"data":{"name":"bands"},"key":"band","fields":["end","range"]}}],"mark":"rect","encoding":{"x":{"field":"edge","type":"quantitative"},"x2":{"field":"end"},"y":{"field":"y","type":"quantitative"},"y2":{"field":"v"},"color":{"field":"range","type":"nominal","scale":{"domain":["(0.0, 0.1]","(0.1, 0.2]","(0.2, 0.3]","(0.3, 0.4]","(0.4, 0.5]","(0.5, 0.6]","(0.6, 0.7]","(0.7, 0.8]","(0.8, 0.9]","(0.9, 1.0]"],"range":["#26006E","#1A00B8","#1F33D0","#2469B2","#2B9E94","#30D06E","#38F94A","#6CFF20","#B2FF00","#FFFF00"]}}}},
{"data":{"values":[{"t":"C"}]},"mark":{"type":"text","fontSize":17,"fontWeight":"bold","align":"left","baseline":"middle"},"encoding":{"x":{"datum":-0.542},"y":{"datum":385400},"text":{"field":"t"}}},
{"data":{"values":[{"t":"HGPS"}]},"mark":{"type":"text","fontSize":17.5,"fontWeight":"bold","align":"left","baseline":"middle","color":"#FF0000"},"encoding":{"x":{"datum":1.133},"y":{"datum":338100},"text":{"field":"t"}}}
]},
{"bounds":"flush","spacing":59,"vconcat":[
{"width":263,"height":188,"layer":[
{"data":{"values":[{}]},"mark":{"type":"rect","fill":"#26006E"},"encoding":{"x":{"datum":0,"type":"quantitative","scale":{"domain":[-0.0542,1.0417],"nice":false,"zero":false},"axis":{"values":[0,0.25,0.5,0.75,1],"format":".2f","title":null}},"x2":{"datum":1},"y":{"datum":324000,"type":"quantitative","scale":{"domain":[-338000,345450],"nice":false,"zero":false,"round":true},"axis":{"values":[-200000,0,200000],"labelExpr":"datum.value==0?'0e+00':'2e+05'","title":"Distance to closet LAD (bp)","titleX":-39,"titleY":97}},"y2":{"datum":-309000}}},
{"data":{"name":"D"},"transform":[{"fold":["L1","L2","L3","L4","L5","L6","L7","L8","L9","R1","R2","R3","R4","R5","R6","R7","R8","R9"],"as":["band","edge"]},{"filter":"isValid(datum.edge)"},{"lookup":"band","from":{"data":{"name":"bands"},"key":"band","fields":["end","range"]}}],"mark":"rect","encoding":{"x":{"field":"edge","type":"quantitative"},"x2":{"field":"end"},"y":{"field":"y","type":"quantitative"},"y2":{"field":"v"},"color":{"field":"range","type":"nominal","scale":{"domain":["(0.0, 0.1]","(0.1, 0.2]","(0.2, 0.3]","(0.3, 0.4]","(0.4, 0.5]","(0.5, 0.6]","(0.6, 0.7]","(0.7, 0.8]","(0.8, 0.9]","(0.9, 1.0]"],"range":["#26006E","#1A00B8","#1F33D0","#2469B2","#2B9E94","#30D06E","#38F94A","#6CFF20","#B2FF00","#FFFF00"]}}}},
{"data":{"values":[{"t":"D"}]},"mark":{"type":"text","fontSize":17,"fontWeight":"bold","align":"left","baseline":"middle"},"encoding":{"x":{"datum":-0.542},"y":{"datum":392700},"text":{"field":"t"}}},
{"data":{"values":[{"t":"HGPS-L"}]},"mark":{"type":"text","fontSize":17.5,"fontWeight":"bold","align":"left","baseline":"middle","color":"#FFC000"},"encoding":{"x":{"datum":1.096},"y":{"datum":370900},"text":{"field":"t"}}}
]},
{"width":261,"height":188,"layer":[
{"data":{"values":[{}]},"mark":{"type":"rect","fill":"#26006E"},"encoding":{"x":{"datum":0,"type":"quantitative","scale":{"domain":[-0.048,1.041],"nice":false,"zero":false},"axis":{"values":[0,0.25,0.5,0.75,1],"format":".2f","title":"BetaValue","titleFontSize":14,"titleX":137,"titleY":37,"titleBaseline":"middle"}},"x2":{"datum":0.995},"y":{"datum":320000,"type":"quantitative","scale":{"domain":[-338000,345450],"nice":false,"zero":false,"round":true},"axis":{"values":[-200000,0,200000],"labelExpr":"datum.value>0?'2e+05':datum.value<0?'-2e+05':'0e+00'","title":"Distance to closet LAD (bp)","titleX":-39,"titleY":97}},"y2":{"datum":-309000}}},
{"data":{"name":"E"},"transform":[{"fold":["L1","L2","L3","L4","L5","L6","L7","L8","L9","R1","R2","R3","R4","R5","R6","R7","R8","R9"],"as":["band","edge"]},{"filter":"isValid(datum.edge)"},{"lookup":"band","from":{"data":{"name":"bands"},"key":"band","fields":["end","range"]}}],"mark":"rect","encoding":{"x":{"field":"edge","type":"quantitative"},"x2":{"field":"end"},"y":{"field":"y","type":"quantitative"},"y2":{"field":"v"},"color":{"field":"range","type":"nominal","scale":{"domain":["(0.0, 0.1]","(0.1, 0.2]","(0.2, 0.3]","(0.3, 0.4]","(0.4, 0.5]","(0.5, 0.6]","(0.6, 0.7]","(0.7, 0.8]","(0.8, 0.9]","(0.9, 1.0]"],"range":["#26006E","#1A00B8","#1F33D0","#2469B2","#2B9E94","#30D06E","#38F94A","#6CFF20","#B2FF00","#FFFF00"]}}}},
{"data":{"values":[{"t":"E"}]},"mark":{"type":"text","fontSize":17,"fontWeight":"bold","align":"left","baseline":"middle"},"encoding":{"x":{"datum":-0.537},"y":{"datum":429000},"text":{"field":"t"}}},
{"data":{"values":[{"t":"APS"}]},"mark":{"type":"text","fontSize":17,"fontWeight":"bold","align":"left","baseline":"middle","color":"#33FF11"},"encoding":{"x":{"datum":1.163},"y":{"datum":356300},"text":{"field":"t"}}},
{"data":{"values":[{"t":"Unmethylated"}]},"mark":{"type":"text","fontSize":8.5,"fontStyle":"italic","align":"left","baseline":"middle"},"encoding":{"x":{"datum":-0.006},"y":{"datum":-432700},"text":{"field":"t"}}},
{"data":{"values":[{"t":"Methylated"}]},"mark":{"type":"text","fontSize":8.5,"fontStyle":"italic","align":"left","baseline":"middle"},"encoding":{"x":{"datum":1.004},"y":{"datum":-432700},"text":{"field":"t"}}}
]}
]}
]}
]}
]},
{"bounds":"flush","spacing":52,"vconcat":[
{"width":276,"height":188,"layer":[
{"data":{"name":"dA"},"mark":{"type":"line","color":"#222222","strokeWidth":0.8,"interpolate":"monotone"},"encoding":{"x":{"field":"x","type":"quantitative","scale":{"domain":[-0.0493,1.0394],"nice":false,"zero":false},"axis":{"values":[0,0.25,0.5,0.75,1],"format":".2f","title":null}},"y":{"field":"d","type":"quantitative","scale":{"domain":[-0.189,4.26],"nice":false,"zero":false},"axis":{"values":[0,1,2,3,4],"title":"Density","titleFontSize":14,"titleX":-19,"titleY":93}}}},
{"data":{"values":[{"m":0.542}]},"mark":{"type":"rule","stroke":"#FF7090","strokeWidth":1.5,"strokeDash":[2,2]},"encoding":{"x":{"field":"m","type":"quantitative"}}},
{"data":{"values":[{"m":0.613}]},"mark":{"type":"rule","stroke":"#4060F0","strokeWidth":1,"strokeDash":[2,2]},"encoding":{"x":{"field":"m","type":"quantitative"}}}
]},
{"bounds":"flush","spacing":57,"vconcat":[
{"width":279,"height":186,"layer":[
{"data":{"name":"dB"},"mark":{"type":"line","color":"#222222","strokeWidth":0.8,"interpolate":"monotone"},"encoding":{"x":{"field":"x","type":"quantitative","scale":{"domain":[-0.0632,1.0395],"nice":false,"zero":false},"axis":{"values":[0,0.25,0.5,0.75,1],"format":".2f","title":null}},"y":{"field":"d","type":"quantitative","scale":{"domain":[-0.141,4.235],"nice":false,"zero":false},"axis":{"values":[0,1,2,3,4],"title":"Density","titleFontSize":14,"titleX":-21,"titleY":95,"offset":-3}}}},
{"data":{"values":[{"m":0.636}]},"mark":{"type":"rule","stroke":"#FF4060","strokeWidth":0.8,"strokeDash":[3,2]},"encoding":{"x":{"field":"m","type":"quantitative"}}},
{"data":{"values":[{"m":0.77}]},"mark":{"type":"rule","stroke":"#5070F0","strokeWidth":0.8,"strokeDash":[3,2]},"encoding":{"x":{"field":"m","type":"quantitative"}}}
]},
{"bounds":"flush","spacing":65,"vconcat":[
{"width":270,"height":183,"layer":[
{"data":{"name":"dC"},"mark":{"type":"line","color":"#222222","strokeWidth":0.8,"interpolate":"monotone"},"encoding":{"x":{"field":"x","type":"quantitative","scale":{"domain":[-0.0525,1.0384],"nice":false,"zero":false},"axis":{"values":[0,0.25,0.5,0.75,1],"format":".2f","title":null}},"y":{"field":"d","type":"quantitative","scale":{"domain":[-0.143,4.214],"nice":false,"zero":false},"axis":{"values":[0,1,2,3,4],"title":"Density","titleFontSize":14,"titleX":-18,"titleY":95}}}},
{"data":{"values":[{"m":0.663}]},"mark":{"type":"rule","stroke":"#FF4060","strokeWidth":0.8,"strokeDash":[3,2]},"encoding":{"x":{"field":"m","type":"quantitative"}}},
{"data":{"values":[{"m":0.808}]},"mark":{"type":"rule","stroke":"#5070F0","strokeWidth":0.8,"strokeDash":[3,2]},"encoding":{"x":{"field":"m","type":"quantitative"}}}
]},
{"bounds":"flush","spacing":73,"vconcat":[
{"width":269,"height":176,"layer":[
{"data":{"name":"dD"},"mark":{"type":"line","color":"#222222","strokeWidth":0.8,"interpolate":"monotone"},"encoding":{"x":{"field":"x","type":"quantitative","scale":{"domain":[-0.0485,1.0384],"nice":false,"zero":false},"axis":{"values":[0,0.25,0.5,0.75,1],"format":".2f","title":null}},"y":{"field":"d","type":"quantitative","scale":{"domain":[-0.15,4.25],"nice":false,"zero":false},"axis":{"values":[0,1,2,3,4],"title":"Density","titleFontSize":14,"titleX":-19,"titleY":88}}}},
{"data":{"values":[{"m":0.659}]},"mark":{"type":"rule","stroke":"#FF4060","strokeWidth":0.8,"strokeDash":[3,2]},"encoding":{"x":{"field":"m","type":"quantitative"}}},
{"data":{"values":[{"m":0.792}]},"mark":{"type":"rule","stroke":"#5070F0","strokeWidth":0.8,"strokeDash":[3,2]},"encoding":{"x":{"field":"m","type":"quantitative"}}}
]},
{"width":266,"height":176,"layer":[
{"data":{"name":"dE"},"mark":{"type":"line","color":"#222222","strokeWidth":0.8,"interpolate":"monotone"},"encoding":{"x":{"field":"x","type":"quantitative","scale":{"domain":[-0.0405,1.0364],"nice":false,"zero":false},"axis":{"values":[0,0.25,0.5,0.75,1],"format":".2f","title":null}},"y":{"field":"d","type":"quantitative","scale":{"domain":[-0.15,4.25],"nice":false,"zero":false},"axis":{"values":[0,1,2,3,4],"title":"Density","titleFontSize":14,"titleX":-17,"titleY":88,"offset":2}}}},
{"data":{"values":[{"m":0.591}]},"mark":{"type":"rule","stroke":"#FF7090","strokeWidth":1.5,"strokeDash":[2,2]},"encoding":{"x":{"field":"m","type":"quantitative"}}},
{"data":{"values":[{"m":0.696}]},"mark":{"type":"rule","stroke":"#4060F0","strokeWidth":1,"strokeDash":[2,2]},"encoding":{"x":{"field":"m","type":"quantitative"}}},
{"data":{"values":[{"t":"Unmethylated"}]},"mark":{"type":"text","fontSize":8.5,"fontStyle":"italic","align":"left","baseline":"middle"},"encoding":{"x":{"datum":-0.028},"y":{"datum":-0.75},"text":{"field":"t"}}},
{"data":{"values":[{"t":"Methylated"}]},"mark":{"type":"text","fontSize":8.5,"fontStyle":"italic","align":"left","baseline":"middle"},"encoding":{"x":{"datum":0.947},"y":{"datum":-0.75},"text":{"field":"t"}}}
]}
]}
]}
]}
]}
]}
